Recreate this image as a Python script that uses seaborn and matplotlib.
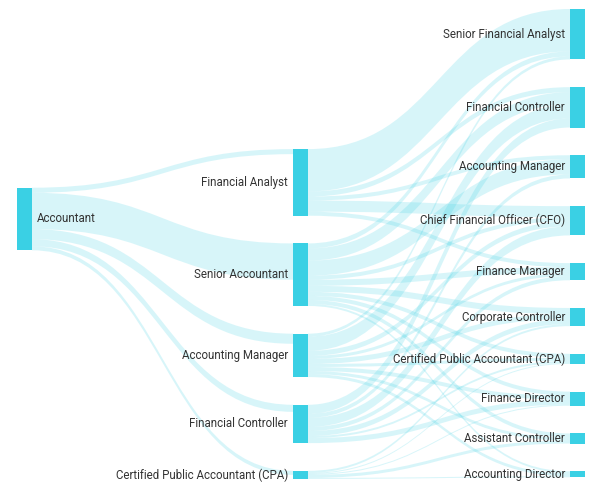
import numpy as np
import pandas as pd
import seaborn as sns
import matplotlib
matplotlib.use("Agg")
import matplotlib.pyplot as plt
from matplotlib.path import Path
from matplotlib.patches import PathPatch, Rectangle

# ---------------- data ----------------
level0 = ["Accountant"]
level1 = ["Financial Analyst", "Senior Accountant", "Accounting Manager",
          "Financial Controller", "Certified Public Accountant (CPA)"]
level2 = ["Senior Financial Analyst", "Financial Controller", "Accounting Manager",
          "Chief Financial Officer (CFO)", "Finance Manager", "Corporate Controller",
          "Certified Public Accountant (CPA)", "Finance Director",
          "Assistant Controller", "Accounting Director"]

# Accountant -> level1
accountant_to = [5, 36, 10, 7, 4]
# level1 -> level2 (columns in level2 order)
financial_analyst_to = [42, 5, 4, 11, 4, 0, 0, 0, 0, 0]
senior_accountant_to = [5, 12, 15, 4, 6, 6, 4, 4, 4, 2]
accounting_manager_to = [3, 14, 0, 5, 3, 5, 3, 4, 3, 3]
financial_controller_to = [0, 9, 4, 9, 4, 5, 2, 5, 0, 0]
cpa_to = [0, 0, 0, 0, 0, 2, 1, 1, 3, 1]

# ---------------- build link table ----------------
rows = []
for j, v in enumerate(accountant_to):
    rows.append((0, 0, 1, j, v))
for i, vals in enumerate([financial_analyst_to, senior_accountant_to,
                          accounting_manager_to, financial_controller_to, cpa_to]):
    for j, v in enumerate(vals):
        if v > 0:
            rows.append((1, i, 2, j, v))
links = pd.DataFrame(rows, columns=["sl", "si", "tl", "ti", "value"])
levels = [level0, level1, level2]

# ---------------- style / layout ----------------
sns.set_theme(style="white")
plt.rcParams["font.family"] = ["Roboto", "DejaVu Sans"]
node_color = sns.desaturate("#3ad0e4", 1.0)
W, H = 600, 493
top, bottom = 9.0, 477.3
node_gap = 27.7
node_w = 15
col_x = [17, 293, 570]
col_align = [("center", 219.0), ("center", 314.0), ("top", top)]

# node values
node_val = {}
for l, names in enumerate(levels):
    for k in range(len(names)):
        vin = links[(links.tl == l) & (links.ti == k)].value.sum()
        vout = links[(links.sl == l) & (links.si == k)].value.sum()
        node_val[(l, k)] = max(vin, vout)

scale = min((bottom - top - (len(n) - 1) * node_gap) /
            sum(node_val[(l, k)] for k in range(len(n)))
            for l, n in enumerate(levels))

node_y = {}
for l, names in enumerate(levels):
    hs = [node_val[(l, k)] * scale for k in range(len(names))]
    total = sum(hs) + node_gap * (len(names) - 1)
    mode, ref = col_align[l]
    if mode == "top":
        y = ref
    elif mode == "bottom":
        y = ref - total
    else:
        y = ref - total / 2
    for k, h in enumerate(hs):
        node_y[(l, k)] = (y, h)
        y += h + node_gap

fig = plt.figure(figsize=(W / 100, H / 100), dpi=100)
ax = fig.add_axes([0, 0, 1, 1])
ax.set_xlim(0, W)
ax.set_ylim(H, 0)
ax.axis("off")

# link offsets
out_off = {key: 0.0 for key in node_y}
in_off = {key: 0.0 for key in node_y}
ordered = links.sort_values(["sl", "si", "tl", "ti"])
link_geo = {}
for idx, r in ordered.iterrows():
    s = (r.sl, r.si)
    w = r.value * scale
    link_geo[idx] = [node_y[s][0] + out_off[s], w, None]
    out_off[s] += w
for idx, r in links.sort_values(["tl", "ti", "sl", "si"]).iterrows():
    t = (r.tl, r.ti)
    link_geo[idx][2] = node_y[t][0] + in_off[t]
    in_off[t] += r.value * scale

for idx, r in links.iterrows():
    ys, w, yt = link_geo[idx]
    x0 = col_x[r.sl] + node_w
    x1 = col_x[r.tl]
    xm = (x0 + x1) / 2
    verts = [(x0, ys), (xm, ys), (xm, yt), (x1, yt),
             (x1, yt + w), (xm, yt + w), (xm, ys + w), (x0, ys + w), (x0, ys)]
    codes = [Path.MOVETO, Path.CURVE4, Path.CURVE4, Path.CURVE4,
             Path.LINETO, Path.CURVE4, Path.CURVE4, Path.CURVE4, Path.CLOSEPOLY]
    ax.add_patch(PathPatch(Path(verts, codes), facecolor=node_color,
                           edgecolor="none", alpha=0.2, zorder=1))

for (l, k), (y, h) in node_y.items():
    ax.add_patch(Rectangle((col_x[l], y), node_w, h, facecolor=node_color,
                           edgecolor="none", zorder=2))
    name = levels[l][k]
    if l == 0:
        ax.text(col_x[l] + node_w + 5, y + h / 2, name, ha="left", va="center",
                fontsize=8.3, color="#333333", zorder=3)
    else:
        ax.text(col_x[l] - 5, y + h / 2, name, ha="right", va="center",
                fontsize=8.3, color="#333333", zorder=3)

fig.savefig("out.png", dpi=100, facecolor="white")
